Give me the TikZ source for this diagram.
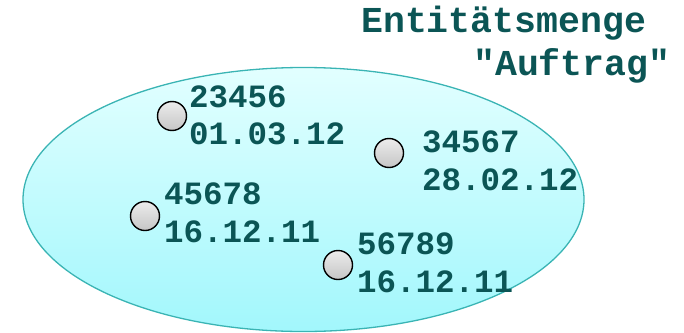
\documentclass[tikz,border=0pt]{standalone}
\usepackage{fontspec}
\setmonofont{Liberation Mono}
\usetikzlibrary{shapes.geometric}
\definecolor{txt}{HTML}{0B5555}
\definecolor{rim}{HTML}{3AB4B4}
\definecolor{filltop}{HTML}{E2FFFF}
\definecolor{fillbot}{HTML}{A2F7FC}
\tikzset{
  entity/.style={circle, draw=black, line width=1.4pt, minimum size=29pt, inner sep=0pt,
    top color=gray!15, bottom color=gray!45},
  label/.style={anchor=base west, inner sep=0pt, text=txt,
    font=\ttfamily\bfseries\fontsize{32.5}{37}\selectfont},
  title/.style={anchor=base west, inner sep=0pt, text=txt,
    font=\ttfamily\bfseries\fontsize{36.5}{43}\selectfont},
}
\begin{document}
\begin{tikzpicture}[x=1pt,y=-1pt]
  \useasboundingbox (0,0) rectangle (684,332);
  % the entity set
  \node[ellipse, draw=rim, line width=1.3pt, minimum width=561pt, minimum height=264pt,
        inner sep=0pt, top color=filltop, bottom color=fillbot] (set) at (303.5,199.5) {};
  % heading
  \node[title] (t1) at (361,32) {Entitätsmenge};
  \node[title] (t2) at (473,75) {"Auftrag"};
  % entities with key and date
  \node[entity] (e1) at (172,116) {};
  \node[label] (k1) at (189,107) {23456};
  \node[label] (d1) at (189,144) {01.03.12};
  \node[entity] (e2) at (389,153) {};
  \node[label] (k2) at (422,152) {34567};
  \node[label] (d2) at (422,190) {28.02.12};
  \node[entity] (e3) at (145,216) {};
  \node[label] (k3) at (164,204) {45678};
  \node[label] (d3) at (164,242) {16.12.11};
  \node[entity] (e4) at (338,265) {};
  \node[label] (k4) at (357,254) {56789};
  \node[label] (d4) at (357,292) {16.12.11};
\end{tikzpicture}
\end{document}
